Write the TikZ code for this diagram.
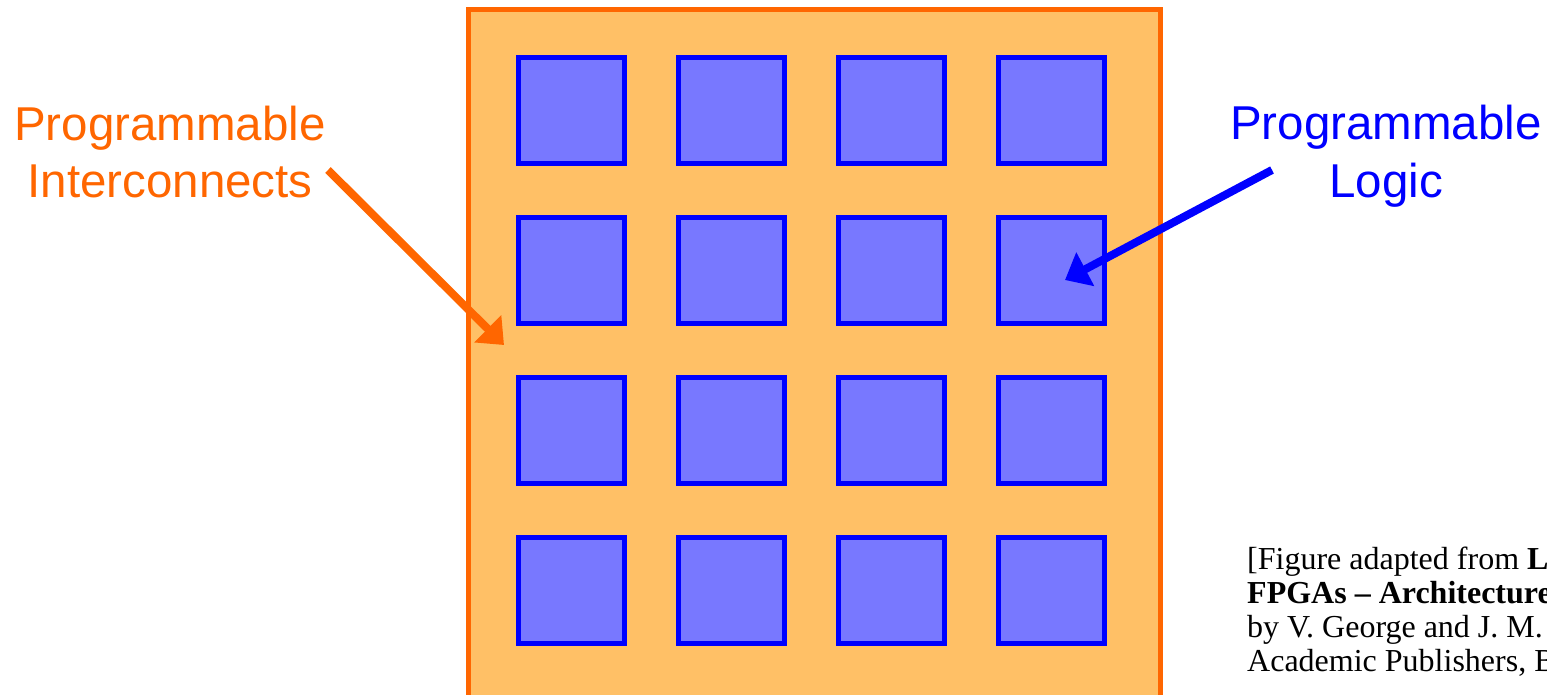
\documentclass[tikz,border=0pt]{standalone}
\usepackage{fontspec}
\setmainfont{Liberation Serif}
\newfontfamily\arialf{Liberation Sans}
\usetikzlibrary{arrows.meta}
\definecolor{ifor}{HTML}{FF6600}
\definecolor{chipfill}{HTML}{FFC066}
\definecolor{blkfill}{HTML}{7878FF}
\definecolor{blkline}{HTML}{0000FF}
\tikzset{
  chipbox/.style={draw=ifor, fill=chipfill, line width=5.3pt, inner sep=0pt, outer sep=0pt},
  blk/.style={draw=blkline, fill=blkfill, line width=5.3pt, minimum size=106pt, inner sep=0pt, outer sep=0pt},
  bigarrow/.style={line width=8pt, -{Triangle[length=23pt,width=37pt]}},
  lbl/.style={font=\arialf\fontsize{47.5}{58}\selectfont, align=center, inner sep=0pt},
  note/.style={font=\fontsize{32}{34}\selectfont, align=left, inner sep=0pt}
}
\begin{document}
\begin{tikzpicture}[x=1pt,y=-1pt]
\useasboundingbox (0,0) rectangle (1547,695);
\clip (0,0) rectangle (1547,695);
\node[chipbox, minimum width=692.5pt, minimum height=710pt, anchor=north west] (chip) at (468.3,9.7) {};
\foreach \i in {0,...,3}{
  \foreach \j in {0,...,3}{
    \node[blk] (b\i\j) at ({571.5+160*\i},{110.8+160*\j}) {};
  }
}
\node[lbl, text=ifor, anchor=base] (lpi) at (170,198) {Programmable\\Interconnects};
\node[lbl, text=blkline, anchor=base] (lpl) at (1386,197) {Programmable\\Logic};
\coordinate (oa) at (328,170);
\coordinate (ob) at (504,345);
\coordinate (ba) at (1272,170);
\coordinate (bb) at (1065,280);
\draw[bigarrow, draw=ifor, fill=ifor] (oa) -- (ob);
\draw[bigarrow, draw=blkline, fill=blkline] (ba) -- (bb);
\node[note, anchor=base west] (src) at (1247,671) {[Figure adapted from \textbf{L}\\\textbf{FPGAs -- Architecture}\\by V. George and J. M.\\Academic Publishers, B};
\end{tikzpicture}
\end{document}
